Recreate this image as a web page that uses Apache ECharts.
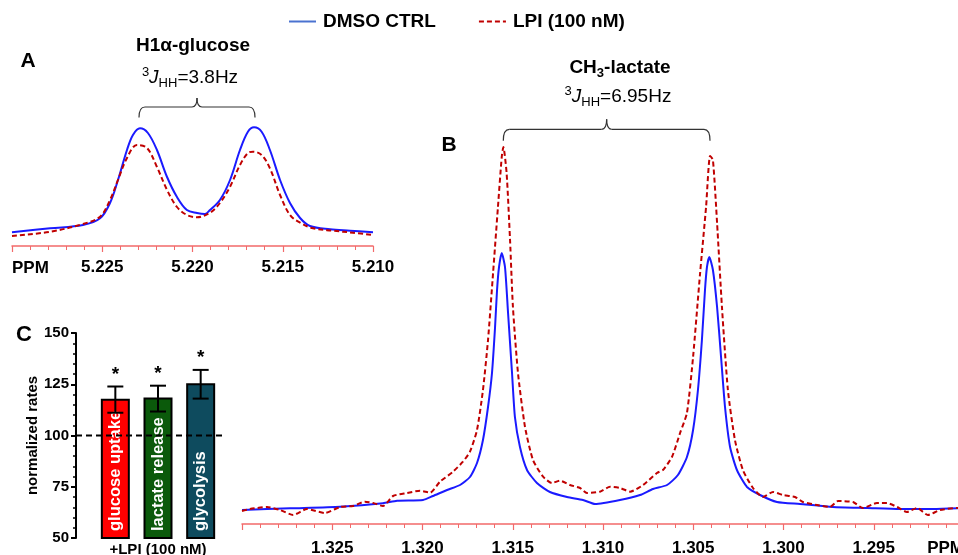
<!DOCTYPE html>
<html>
<head>
<meta charset="utf-8">
<script src="https://cdn.jsdelivr.net/npm/echarts@6/dist/echarts.min.js"></script>
<style>
html,body{margin:0;padding:0;background:#fff;}
#c{width:958px;height:555px;}
</style>
</head>
<body>
<div id="c"></div>
<script>
// ---------- DATA ----------
// Panel A: H1-alpha glucose doublet  [ppm, intensity]
const glucoseCtrl = [[5.2300,13.7],[5.22789,17.7],[5.22607,21],[5.22512,27.7],[5.22457,43],[5.22413,66],[5.22363,96],[5.22330,111],[5.22291,117.7],[5.22247,113],[5.22197,96],[5.22141,69],[5.22086,49],[5.22031,36],[5.21975,33],[5.21931,32],[5.21903,36],[5.21848,46],[5.21792,66],[5.21737,96],[5.21693,114.3],[5.21659,118.7],[5.21617,114.3],[5.21571,96],[5.21515,66],[5.21460,43],[5.21404,28],[5.21349,20],[5.21238,16.7],[5.21127,15.3],[5.21000,13.7]];
const glucoseLPI = [[5.2300,10],[5.22789,14.3],[5.22607,22],[5.22512,29.3],[5.22457,46],[5.22413,66],[5.22363,88],[5.22308,101],[5.22252,98],[5.22197,79],[5.22141,56],[5.22086,39],[5.22031,31],[5.21975,28.7],[5.21903,33.3],[5.21848,43],[5.21792,59.3],[5.21737,81],[5.21693,93],[5.21665,94.3],[5.21617,91],[5.21571,77.7],[5.21515,51],[5.21460,31],[5.21404,23.3],[5.21332,17.7],[5.21222,15.3],[5.21111,13.3],[5.21000,11]];
// Panel B: CH3-lactate doublet  [ppm, intensity]
const lactateCtrl = [[1.33000,14],[1.32734,15.7],[1.32457,17.3],[1.32219,20.7],[1.32141,23.3],[1.31997,24],[1.31942,28],[1.31864,34],[1.31792,39],[1.31737,47],[1.31698,61],[1.31665,84],[1.31637,117],[1.31615,151],[1.31598,197],[1.31587,234],[1.31576,257],[1.31561,271],[1.31543,257],[1.31526,211],[1.31504,151],[1.31488,107],[1.31460,77],[1.31421,54],[1.31366,41],[1.31294,32],[1.31199,27],[1.31111,24],[1.31044,20],[1.30906,24],[1.30795,29],[1.30723,35],[1.30645,39],[1.30585,49],[1.30535,67],[1.30501,94],[1.30474,134],[1.30452,184],[1.30435,234],[1.30424,257],[1.30411,267],[1.30391,254],[1.30368,217],[1.30346,167],[1.30324,117],[1.30296,77],[1.30258,54],[1.30202,37],[1.30130,29],[1.30036,22],[1.29909,20],[1.29726,17],[1.29537,16],[1.29355,15],[1.29172,15],[1.29000,16]];
const lactateLPI = [[1.33000,13],[1.32956,15],[1.32861,17],[1.32789,14],[1.32717,9],[1.32640,15],[1.32540,11],[1.32457,17],[1.32385,18],[1.32319,22.3],[1.32274,21],[1.32219,18],[1.32163,28],[1.32086,31],[1.32014,33.3],[1.31958,31.3],[1.31903,42.3],[1.31831,52.3],[1.31776,62.3],[1.31737,72.3],[1.31698,94],[1.31665,134],[1.31637,184],[1.31609,251],[1.31582,317],[1.31561,367],[1.31552,377],[1.31534,351],[1.31515,284],[1.31499,217],[1.31471,151],[1.31432,97],[1.31388,64],[1.31332,47.3],[1.31283,41],[1.31238,43.3],[1.31183,39],[1.31127,36],[1.31089,31],[1.31017,32.3],[1.30961,37.3],[1.30906,36],[1.30850,32.3],[1.30778,39],[1.30701,51],[1.30668,54],[1.30618,67],[1.30573,91],[1.30535,111],[1.30501,167],[1.30462,251],[1.30429,317],[1.30407,368],[1.30391,364],[1.30368,301],[1.30341,217],[1.30308,134],[1.30269,84],[1.30225,54],[1.30169,36],[1.30114,27],[1.30058,32],[1.30003,29],[1.29936,27],[1.29892,22],[1.29815,19],[1.29743,17],[1.29698,23],[1.29615,22],[1.29560,16],[1.29482,21],[1.29427,21],[1.29371,17],[1.29316,12],[1.29260,16],[1.29200,9],[1.29133,14],[1.29033,16],[1.29000,16]];
// Panel C: normalized rates
const barCats = ['glucose uptake','lactate release','glycolysis'];
const barMeans = [117.5, 118, 125];
const barErr = [6.4, 6.3, 7.0];
const refLevel = 100;
const cTicks = {min:50, max:150, interval:25};

// ---------- CHART ----------
const FF = 'Liberation Sans, Arial, sans-serif';
const BLUE = '#1a1aff', RED = '#c00000', AXR = '#f26a6a';
const barColors = ['#ff0000','#0b5a0b','#0e4b5e'];
const chart = echarts.init(document.getElementById('c'), null, {renderer:'canvas'});

function specAxis(gi, min, max, margin, fmt){
  return {type:'value', gridIndex:gi, inverse:true, min:min, max:max, interval:0.005,
    axisLine:{show:true, onZero:false, lineStyle:{color:AXR, width:1.5}},
    axisTick:{show:true, length:6, lineStyle:{color:AXR, width:1.2}},
    minorTick:{show:true, splitNumber:5, length:4, lineStyle:{color:AXR, width:1}},
    splitLine:{show:false}, minorSplitLine:{show:false},
    axisLabel:{margin:margin, color:'#000', fontFamily:FF, fontWeight:'bold', fontSize:17, formatter:fmt}};
}
const lineS = (name, data, xi, dashed, smooth) => ({
  name:name, type:'line', xAxisIndex:xi, yAxisIndex:xi, data:data, smooth:smooth,
  symbol:'none', showSymbol:false, clip:true,
  lineStyle:{color:dashed?RED:BLUE, width:2, type:dashed?[5,3]:'solid'},
  itemStyle:{color:dashed?RED:BLUE}
});
const rich = {
  n:{fontFamily:FF, fontSize:19, lineHeight:24, fill:'#000'},
  nb:{fontFamily:FF, fontSize:19, fontWeight:'bold', lineHeight:24, fill:'#000'},
  i:{fontFamily:FF, fontSize:19, fontStyle:'italic', lineHeight:24, fill:'#000'},
  s:{fontFamily:FF, fontSize:13, lineHeight:13, verticalAlign:'top', fill:'#000'},
  b:{fontFamily:FF, fontSize:13, lineHeight:13, verticalAlign:'bottom', fill:'#000'},
  bb:{fontFamily:FF, fontSize:13, fontWeight:'bold', lineHeight:13, verticalAlign:'bottom', fill:'#000'}
};
const txt = (x,y,text,opt) => Object.assign({type:'text', x:x, y:y, silent:true,
  style:{text:text, fill:'#000', font:'bold 19px '+FF, align:'center', verticalAlign:'middle', rich:rich}}, opt||{});
function brace(x1,x2,y,yEnd,yTip){
  const xc=(x1+x2)/2, st={fill:'none', stroke:'#333', lineWidth:1.2};
  return {type:'group', silent:true, children:[
    {type:'bezierCurve', shape:{x1:x1, y1:yEnd, x2:x1+6, y2:y, cpx1:x1, cpy1:y}, style:st},
    {type:'line', shape:{x1:x1+6, y1:y, x2:xc-5, y2:y}, style:st},
    {type:'bezierCurve', shape:{x1:xc-5, y1:y, x2:xc, y2:yTip, cpx1:xc, cpy1:y}, style:st},
    {type:'bezierCurve', shape:{x1:xc, y1:yTip, x2:xc+5, y2:y, cpx1:xc, cpy1:y}, style:st},
    {type:'line', shape:{x1:xc+5, y1:y, x2:x2-6, y2:y}, style:st},
    {type:'bezierCurve', shape:{x1:x2-6, y1:y, x2:x2, y2:yEnd, cpx1:x2, cpy1:y}, style:st}
  ]};
}

const option = {
  animation:false,
  backgroundColor:'#fff',
  legend:{left:288, top:12, padding:0, itemWidth:27, itemHeight:14, itemGap:42,
    data:[{name:'DMSO CTRL', lineStyle:{color:'#4a72d0'}}, {name:'LPI (100 nM)'}],
    itemStyle:{opacity:0},
    textStyle:{fontFamily:FF, fontWeight:'bold', fontSize:19, color:'#000', padding:[0,0,0,2]}},
  grid:[
    {left:12, top:106, width:361, height:140, outerBoundsMode:'none'},
    {left:242, top:124, width:722, height:400, outerBoundsMode:'none'},
    {left:94, top:333, width:128, height:205, outerBoundsMode:'none'}
  ],
  xAxis:[
    specAxis(0, 5.210, 5.230, 13, v => Math.abs(v-5.230)<1e-6 ? '' : v.toFixed(3)),
    specAxis(1, 1.290, 1.330, 16, v => (v>1.3295 || v<1.2905) ? '' : v.toFixed(3)),
    {type:'category', gridIndex:2, data:barCats, boundaryGap:true,
      axisLine:{show:false}, axisTick:{show:false}, axisLabel:{show:false},
      name:'+LPI (100 nM)', nameLocation:'middle', nameGap:4,
      nameTextStyle:{fontFamily:FF, fontWeight:'bold', fontSize:15, color:'#000', verticalAlign:'top'}}
  ],
  yAxis:[
    {type:'value', gridIndex:0, min:0, max:140, show:false},
    {type:'value', gridIndex:1, min:0, max:400, show:false},
    {type:'value', gridIndex:2, min:cTicks.min, max:cTicks.max, interval:cTicks.interval, offset:18,
      axisLine:{show:true, lineStyle:{color:'#000', width:2}},
      axisTick:{show:true, length:5, lineStyle:{color:'#000', width:2}},
      minorTick:{show:true, splitNumber:5, length:3, lineStyle:{color:'#000', width:1.5}},
      splitLine:{show:false},
      axisLabel:{margin:7, color:'#000', fontFamily:FF, fontWeight:'bold', fontSize:15},
      name:'normalized rates', nameLocation:'middle', nameGap:36,
      nameTextStyle:{fontFamily:FF, fontWeight:'bold', fontSize:15, color:'#000'}}
  ],
  series:[
    lineS('DMSO CTRL', glucoseCtrl, 0, false, 0.35),
    lineS('LPI (100 nM)', glucoseLPI, 0, true, 0.35),
    lineS('DMSO CTRL', lactateCtrl, 1, false, 0.2),
    lineS('LPI (100 nM)', lactateLPI, 1, true, 0.2),
    {type:'custom', name:'bars', xAxisIndex:2, yAxisIndex:2, silent:true,
      data:barMeans.map((v,i)=>[i,v]),
      renderItem:(params, api) => {
        const i = api.value(0), v = api.value(1);
        const top = api.coord([i, v]), base = api.coord([i, cTicks.min]);
        const w = 27;
        return {type:'group', children:[
          {type:'rect', shape:{x:top[0]-w/2, y:top[1], width:w, height:base[1]-top[1]},
            style:{fill:barColors[i], stroke:'#000', lineWidth:2}},
          {type:'text', x:top[0], y:base[1]-7, rotation:Math.PI/2,
            style:{text:barCats[i], fill:'#fff', font:'bold 16.5px '+FF, align:'left', verticalAlign:'middle'}}
        ]};
      }},
    {type:'custom', name:'err', xAxisIndex:2, yAxisIndex:2, silent:true, z:5,
      data:barMeans.map((v,i)=>[i, v-barErr[i], v+barErr[i]]),
      renderItem:(params, api) => {
        const i = api.value(0);
        const lo = api.coord([i, api.value(1)]), hi = api.coord([i, api.value(2)]);
        const x = lo[0], cw = 8, st = {stroke:'#000', lineWidth:2};
        return {type:'group', children:[
          {type:'line', shape:{x1:x, y1:lo[1], x2:x, y2:hi[1]}, style:st},
          {type:'line', shape:{x1:x-cw, y1:hi[1], x2:x+cw, y2:hi[1]}, style:st},
          {type:'line', shape:{x1:x-cw, y1:lo[1], x2:x+cw, y2:lo[1]}, style:st},
          {type:'text', x:x, y:hi[1]-12, style:{text:'*', fill:'#000', font:'bold 19px '+FF, align:'center', verticalAlign:'middle'}}
        ]};
      }},
    {type:'custom', name:'ref', xAxisIndex:2, yAxisIndex:2, silent:true, z:4,
      data:[[0, refLevel]],
      renderItem:(params, api) => {
        const y = api.coord([0, api.value(1)])[1];
        const cs = params.coordSys;
        return {type:'line', shape:{x1:cs.x-18, y1:y, x2:cs.x+cs.width, y2:y},
          style:{stroke:'#000', lineWidth:2, lineDash:[6,4]}};
      }}
  ],
  graphic:[
    txt(28, 61, 'A', {style:{text:'A', fill:'#000', font:'bold 21px '+FF, align:'center', verticalAlign:'middle'}}),
    txt(193, 46, 'H1α-glucose'),
    txt(190, 78, '{s|3}{i|J}{b|HH}{n|=3.8Hz}'),
    brace(139, 255, 107, 117.5, 98),
    txt(449, 145, 'B', {style:{text:'B', fill:'#000', font:'bold 21px '+FF, align:'center', verticalAlign:'middle'}}),
    txt(620, 68, '{nb|CH}{bb|3}{nb|-lactate}'),
    txt(618, 97, '{s|3}{i|J}{b|HH}{n|=6.95Hz}'),
    brace(503.3, 710, 129.3, 140.7, 119.3),
    txt(24, 335, 'C', {style:{text:'C', fill:'#000', font:'bold 22px '+FF, align:'center', verticalAlign:'middle'}}),
    txt(12, 268, 'PPM', {style:{text:'PPM', fill:'#000', font:'bold 17px '+FF, align:'left', verticalAlign:'middle'}}),
    txt(964, 548, 'PPM', {style:{text:'PPM', fill:'#000', font:'bold 17px '+FF, align:'right', verticalAlign:'middle'}})
  ]
};
chart.setOption(option);
</script>
</body>
</html>
